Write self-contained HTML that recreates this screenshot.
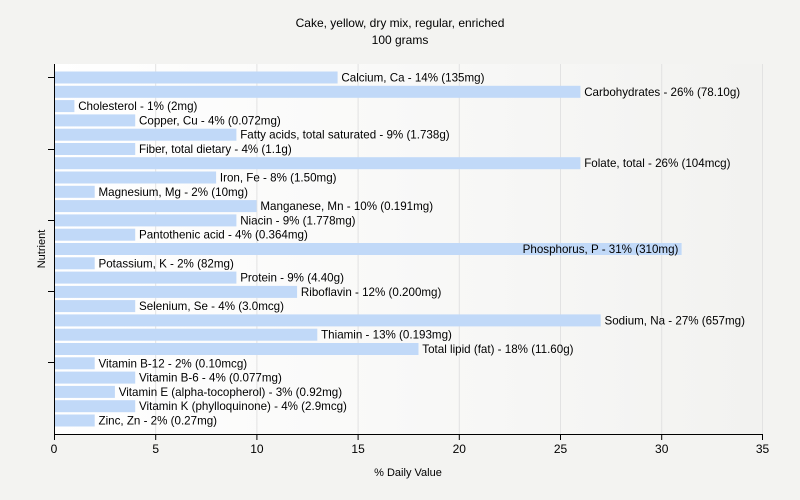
<!DOCTYPE html>
<html><head><meta charset="utf-8"><style>
html,body{margin:0;padding:0;background:#f3f3f1;}
svg{display:block;font-family:"Liberation Sans",sans-serif;}
</style></head><body>
<svg width="800" height="500" xmlns="http://www.w3.org/2000/svg">
<defs><linearGradient id="g" x1="0" x2="1" y1="0" y2="0"><stop offset="0" stop-color="#ffffff"/><stop offset="1" stop-color="#f2f2f0"/></linearGradient></defs>
<rect width="800" height="500" fill="#f3f3f1"/>
<rect x="54" y="64" width="709" height="370" fill="url(#g)"/>
<g stroke="#e2e2e2" stroke-width="1">
<line x1="155.7" y1="64" x2="155.7" y2="434"/><line x1="256.9" y1="64" x2="256.9" y2="434"/>
<line x1="358.1" y1="64" x2="358.1" y2="434"/><line x1="459.3" y1="64" x2="459.3" y2="434"/>
<line x1="560.5" y1="64" x2="560.5" y2="434"/><line x1="661.7" y1="64" x2="661.7" y2="434"/>
<line x1="762.5" y1="64" x2="762.5" y2="434"/>
</g>
<text x="400" y="27" text-anchor="middle" font-size="12">Cake, yellow, dry mix, regular, enriched</text>
<text x="400" y="44" text-anchor="middle" font-size="12">100 grams</text>
<g fill="#c1d9f8" transform="translate(-0.8,0)">
<rect x="55" y="71.5" width="283.4" height="12"/>
<rect x="55" y="85.8" width="526.2" height="12"/>
<rect x="55" y="100.1" width="20.2" height="12"/>
<rect x="55" y="114.4" width="81" height="12"/>
<rect x="55" y="128.7" width="182.2" height="12"/>
<rect x="55" y="143" width="81" height="12"/>
<rect x="55" y="157.2" width="526.2" height="12"/>
<rect x="55" y="171.5" width="161.9" height="12"/>
<rect x="55" y="185.8" width="40.5" height="12"/>
<rect x="55" y="200.1" width="202.4" height="12"/>
<rect x="55" y="214.4" width="182.2" height="12"/>
<rect x="55" y="228.7" width="81" height="12"/>
<rect x="55" y="243" width="627.4" height="12"/>
<rect x="55" y="257.3" width="40.5" height="12"/>
<rect x="55" y="271.6" width="182.2" height="12"/>
<rect x="55" y="285.9" width="242.9" height="12"/>
<rect x="55" y="300.1" width="81" height="12"/>
<rect x="55" y="314.4" width="546.5" height="12"/>
<rect x="55" y="328.7" width="263.1" height="12"/>
<rect x="55" y="343" width="364.3" height="12"/>
<rect x="55" y="357.3" width="40.5" height="12"/>
<rect x="55" y="371.6" width="81" height="12"/>
<rect x="55" y="385.9" width="60.7" height="12"/>
<rect x="55" y="400.2" width="81" height="12"/>
<rect x="55" y="414.5" width="40.5" height="12"/>
</g>
<g font-size="11.6" fill="#000">
<text x="341.4" y="81.5">Calcium, Ca - 14% (135mg)</text>
<text x="584.2" y="95.8">Carbohydrates - 26% (78.10g)</text>
<text x="78.2" y="110.1">Cholesterol - 1% (2mg)</text>
<text x="139" y="124.4">Copper, Cu - 4% (0.072mg)</text>
<text x="240.2" y="138.7">Fatty acids, total saturated - 9% (1.738g)</text>
<text x="139" y="153">Fiber, total dietary - 4% (1.1g)</text>
<text x="584.2" y="167.2">Folate, total - 26% (104mcg)</text>
<text x="219.9" y="181.5">Iron, Fe - 8% (1.50mg)</text>
<text x="98.5" y="195.8">Magnesium, Mg - 2% (10mg)</text>
<text x="260.4" y="210.1">Manganese, Mn - 10% (0.191mg)</text>
<text x="240.2" y="224.4">Niacin - 9% (1.778mg)</text>
<text x="139" y="238.7">Pantothenic acid - 4% (0.364mg)</text>
<text x="678.4" y="253" text-anchor="end">Phosphorus, P - 31% (310mg)</text>
<text x="98.5" y="267.3">Potassium, K - 2% (82mg)</text>
<text x="240.2" y="281.6">Protein - 9% (4.40g)</text>
<text x="300.9" y="295.9">Riboflavin - 12% (0.200mg)</text>
<text x="139" y="310.1">Selenium, Se - 4% (3.0mcg)</text>
<text x="604.5" y="324.4">Sodium, Na - 27% (657mg)</text>
<text x="321.1" y="338.7">Thiamin - 13% (0.193mg)</text>
<text x="422.3" y="353">Total lipid (fat) - 18% (11.60g)</text>
<text x="98.5" y="367.3">Vitamin B-12 - 2% (0.10mcg)</text>
<text x="139" y="381.6">Vitamin B-6 - 4% (0.077mg)</text>
<text x="118.7" y="395.9">Vitamin E (alpha-tocopherol) - 3% (0.92mg)</text>
<text x="139" y="410.2">Vitamin K (phylloquinone) - 4% (2.9mcg)</text>
<text x="98.5" y="424.5">Zinc, Zn - 2% (0.27mg)</text>
</g>
<line x1="54.5" y1="64" x2="54.5" y2="434.5" stroke="#000"/>
<line x1="54" y1="434.5" x2="763" y2="434.5" stroke="#000"/>
<g stroke="#000">
<line x1="48" y1="77.5" x2="54" y2="77.5"/><line x1="48" y1="149.5" x2="54" y2="149.5"/>
<line x1="48" y1="220.5" x2="54" y2="220.5"/><line x1="48" y1="291.5" x2="54" y2="291.5"/>
<line x1="48" y1="362.5" x2="54" y2="362.5"/>
<line x1="54.5" y1="434" x2="54.5" y2="440"/><line x1="155.7" y1="434" x2="155.7" y2="440"/>
<line x1="256.9" y1="434" x2="256.9" y2="440"/><line x1="358.1" y1="434" x2="358.1" y2="440"/>
<line x1="459.3" y1="434" x2="459.3" y2="440"/><line x1="560.5" y1="434" x2="560.5" y2="440"/>
<line x1="661.7" y1="434" x2="661.7" y2="440"/><line x1="762.5" y1="434" x2="762.5" y2="440"/>
</g>
<g font-size="12" text-anchor="middle">
<text x="54" y="453">0</text><text x="155.7" y="453">5</text><text x="256.9" y="453">10</text>
<text x="358.1" y="453">15</text><text x="459.3" y="453">20</text><text x="560.5" y="453">25</text>
<text x="661.7" y="453">30</text><text x="762.5" y="453">35</text>
</g>
<text x="408" y="476" text-anchor="middle" font-size="11">% Daily Value</text>
<text transform="translate(45,249) rotate(-90)" text-anchor="middle" font-size="11">Nutrient</text>
</svg>
</body></html>
